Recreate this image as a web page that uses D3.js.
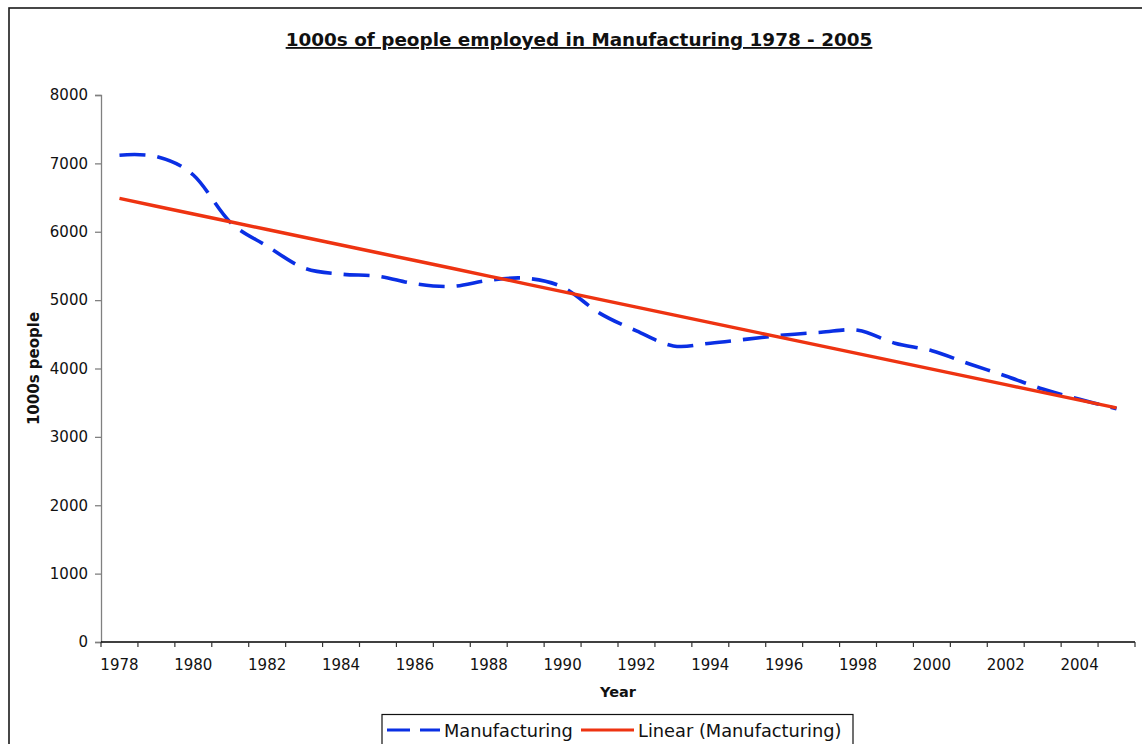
<!DOCTYPE html>
<html>
<head>
<meta charset="utf-8">
<script src="https://cdn.jsdelivr.net/npm/d3@7"></script>
<style>
  html, body { margin: 0; padding: 0; background: #fff; }
  svg { display: block; }
  text { font-family: "DejaVu Sans", Verdana, sans-serif; fill: #111; }
</style>
</head>
<body>
<svg id="chart" width="1142" height="744"></svg>
<script>
// Employment in manufacturing, thousands of people
const years = [1978, 1979, 1980, 1981, 1982, 1983, 1984, 1985, 1986, 1987,
               1988, 1989, 1990, 1991, 1992, 1993, 1994, 1995, 1996, 1997,
               1998, 1999, 2000, 2001, 2002, 2003, 2004, 2005];
const manufacturing = [7120, 7100, 6830, 6140, 5790, 5470, 5380, 5350, 5240, 5200,
                       5290, 5320, 5190, 4810, 4550, 4330, 4370, 4430, 4490, 4530,
                       4560, 4370, 4260, 4070, 3890, 3700, 3550, 3410];
const yTicks = [0, 1000, 2000, 3000, 4000, 5000, 6000, 7000, 8000];
const xTickLabels = [1978, 1980, 1982, 1984, 1986, 1988, 1990, 1992, 1994, 1996, 1998, 2000, 2002, 2004];
const seriesNames = ["Manufacturing", "Linear (Manufacturing)"];

const BLUE = "#0a2fe4";
const RED = "#ee3311";

// Least-squares linear trend over the category index
const n = manufacturing.length;
const meanX = (n - 1) / 2;
const meanY = d3.mean(manufacturing);
let sxy = 0, sxx = 0;
manufacturing.forEach((v, i) => { sxy += (i - meanX) * (v - meanY); sxx += (i - meanX) ** 2; });
const slope = sxy / sxx;
const intercept = meanY - slope * meanX;
const trend = manufacturing.map((_, i) => intercept + slope * i);

const svg = d3.select("#chart");

// Chart frame
svg.append("rect")
  .attr("x", 9).attr("y", 8)
  .attr("width", 1160).attr("height", 780)
  .attr("fill", "#fff").attr("stroke", "#1a1a1a").attr("stroke-width", 1.6);

const plot = { left: 101, right: 1135, top: 95, bottom: 642 };

const x = d3.scaleBand().domain(years).range([plot.left, plot.right]).padding(0);
const y = d3.scaleLinear().domain([0, 8000]).range([plot.bottom, plot.top]);

// Title
svg.append("text")
  .attr("x", 579).attr("y", 46)
  .attr("text-anchor", "middle")
  .style("font-size", "18.4px").style("font-weight", "bold")
  .style("text-decoration", "underline")
  .text("1000s of people employed in Manufacturing 1978 - 2005");

// Y axis
const yAxis = svg.append("g")
  .attr("transform", `translate(${plot.left},0)`)
  .call(d3.axisLeft(y).tickValues(yTicks).tickSize(6).tickPadding(7).tickFormat(d3.format("d")));
yAxis.select(".domain").attr("stroke", "#808080").attr("stroke-width", 1.3);
yAxis.selectAll(".tick line").attr("stroke", "#808080").attr("stroke-width", 1.3);
yAxis.selectAll(".tick text")
  .style("font-size", "15px").style("font-family", "'DejaVu Sans', Verdana, sans-serif").attr("fill", "#111");

// X axis: ticks fall between categories, labels on every second year
const xAxis = svg.append("g")
  .attr("transform", `translate(0,${plot.bottom})`);
xAxis.append("line")
  .attr("x1", plot.left).attr("x2", plot.right)
  .attr("stroke", "#000").attr("stroke-width", 1.5);
const boundaries = years.map(d => x(d)).concat([x(years[years.length - 1]) + x.bandwidth()]);
xAxis.selectAll("line.tick")
  .data(boundaries)
  .join("line")
  .attr("class", "tick")
  .attr("x1", d => d).attr("x2", d => d)
  .attr("y1", 0).attr("y2", 5)
  .attr("stroke", "#333").attr("stroke-width", 1.2);
xAxis.selectAll("text.lbl")
  .data(xTickLabels)
  .join("text")
  .attr("class", "lbl")
  .attr("x", d => x(d) + x.bandwidth() / 2)
  .attr("y", 28)
  .attr("text-anchor", "middle")
  .style("font-size", "15px")
  .text(d => d);

// Axis titles
svg.append("text")
  .attr("x", (plot.left + plot.right) / 2).attr("y", 697)
  .attr("text-anchor", "middle")
  .style("font-size", "14.5px").style("font-weight", "bold")
  .text("Year");
svg.append("text")
  .attr("transform", `translate(39,${(plot.top + plot.bottom) / 2}) rotate(-90)`)
  .attr("text-anchor", "middle")
  .style("font-size", "15px").style("font-weight", "bold")
  .text("1000s people");

const cx = d => x(d) + x.bandwidth() / 2;

// Smoothed series line
const smooth = d3.line()
  .x((d, i) => cx(years[i]))
  .y(d => y(d))
  .curve(d3.curveCatmullRom.alpha(0));
svg.append("path")
  .datum(manufacturing)
  .attr("d", smooth)
  .attr("fill", "none")
  .attr("stroke", BLUE)
  .attr("stroke-width", 3.6)
  .attr("stroke-dasharray", "26 12");

// Linear trendline
const straight = d3.line().x((d, i) => cx(years[i])).y(d => y(d));
svg.append("path")
  .datum(trend)
  .attr("d", straight)
  .attr("fill", "none")
  .attr("stroke", RED)
  .attr("stroke-width", 3.4);

// Legend
const legend = svg.append("g");
legend.append("rect")
  .attr("x", 382).attr("y", 714.5)
  .attr("width", 471).attr("height", 40)
  .attr("fill", "#fff").attr("stroke", "#111").attr("stroke-width", 1.2);
legend.append("line")
  .attr("x1", 387).attr("x2", 440).attr("y1", 730).attr("y2", 730)
  .attr("stroke", BLUE).attr("stroke-width", 3).attr("stroke-dasharray", "23 10");
legend.append("text")
  .attr("x", 444).attr("y", 737)
  .style("font-size", "17.8px")
  .text(seriesNames[0]);
legend.append("line")
  .attr("x1", 581).attr("x2", 634).attr("y1", 730).attr("y2", 730)
  .attr("stroke", RED).attr("stroke-width", 3);
legend.append("text")
  .attr("x", 638).attr("y", 737)
  .style("font-size", "17.8px")
  .text(seriesNames[1]);
</script>
</body>
</html>
